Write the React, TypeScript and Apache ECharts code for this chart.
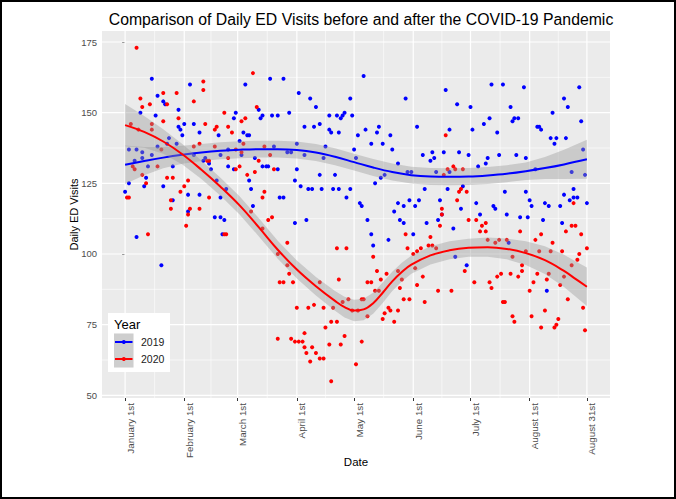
import { useEffect, useRef } from "react";
import * as echarts from "echarts";

// ---- axis breaks / labels ----
const xBreaks = [0, 31, 59, 90, 120, 151, 181, 212, 242];
const xLabels = ["January 1st", "February 1st", "March 1st", "April 1st", "May 1st", "June 1st", "July 1st", "August 1st", "August 31st"];
const yBreaks = [50, 75, 100, 125, 150, 175];
const xMin = -12.1;
const xMax = 254.1;
const yMin = 49.05;
const yMax = 178.9;

// ---- daily ED visits: [day since Jan 1, visits] ----
const visits2019: [number, number][] = [
  [0,122],[2,125],[2,137],[5,133],[6,137],[6,106],[8,150],[9,136],[9,134],[11,127],[10,124],[12,131],[14,162],[14,135],[16,149],[17,156],[17,138],[19,96],[20,154],[20,124],[21,153],[22,139],[23,141],[25,131],[25,119],[27,139],[28,151],[28,145],[29,144],[30,142],[31,146],[33,121],[33,115],[34,160],[36,146],[36,135],[39,143],[39,121],[41,133],[42,134],[44,132],[45,130],[47,113],[48,126],[49,142],[50,135],[50,120],[50,113],[51,107],[52,112],[53,123],[54,131],
  [54,137],[57,130],[57,148],[58,150],[60,140],[61,135],[62,143],[63,160],[64,142],[65,142],[65,126],[66,123],[67,117],[68,134],[70,151],[71,148],[72,149],[72,131],[74,131],[75,131],[76,162],[77,149],[78,138],[80,149],[80,130],[81,120],[83,162],[83,120],[85,136],[86,150],[87,136],[89,126],[89,111],[90,139],[90,130],[91,157],[92,124],[94,145],[94,135],[95,112],[96,123],[97,155],[98,123],[99,145],[100,152],[102,146],[102,128],[103,123],[104,134],[105,138],[107,149],[107,144],[108,143],[109,123],[110,128],[111,149],[112,143],[112,123],[113,148],[114,149],[115,150],[116,120],[118,155],[118,123],[119,149],[120,137],[121,134],[122,142],
  [123,118],[124,117],[125,163],[126,144],[127,112],[129,139],[129,107],[130,103],[131,125],[132,143],[133,145],[134,127],[135,139],[136,128],[138,105],[139,142],[140,137],[141,115],[143,132],[143,118],[144,112],[146,117],[146,111],[147,155],[148,129],[149,119],[150,129],[151,107],[152,117],[153,145],[154,119],[156,135],[157,123],[158,111],[160,133],[161,136],[162,134],[163,129],[164,112],[165,119],[166,114],[167,136],[168,158],[169,123],[170,144],[170,129],[172,109],[173,99],[174,153],[175,136],[176,116],[177,124],[179,96],[180,135],[181,152],[182,144],[184,118],[185,131],[186,114],[188,146],
  [189,132],[190,134],[191,148],[192,160],[193,117],[194,116],[195,143],[196,135],[198,160],[199,122],[200,114],[201,104],[202,152],[203,147],[204,148],[205,135],[206,148],[207,113],[209,159],[210,134],[210,122],[211,113],[212,119],[213,117],[215,130],[216,145],[217,145],[218,144],[219,112],[220,118],[221,87],[222,117],[223,141],[224,150],[225,139],[226,141],[228,117],[229,111],[230,155],[230,121],[231,141],[232,152],[233,119],[234,129],[235,123],[235,120],[237,120],[238,159],[239,147],[240,137],[241,128],[242,118]
];

const visits2020: [number, number][] = [
  [1,120],[2,120],[3,146],[4,131],[5,130],[6,173],[7,144],[8,155],[9,152],[9,128],[11,125],[12,107],[13,153],[14,146],[14,144],[17,131],[19,137],[20,157],[20,147],[22,153],[22,127],[24,119],[24,116],[25,127],[27,157],[28,148],[29,122],[31,124],[32,110],[33,126],[33,114],[34,116],[36,154],[36,138],[39,139],[39,116],[41,161],[41,158],[42,146],[43,133],[44,133],[44,120],[47,144],[47,138],[48,145],[52,150],[52,107],[53,107],[54,145],
  [54,134],[56,143],[58,137],[58,130],[60,131],[61,147],[61,136],[62,139],[63,148],[64,128],[66,115],[67,164],[68,129],[69,152],[70,133],[72,120],[72,109],[73,138],[73,122],[75,112],[76,135],[77,113],[78,130],[80,100],[80,70],[81,90],[83,90],[85,104],[85,96],[86,93],[87,70],[88,90],[89,69],[90,81],[91,69],[93,69],[94,72],[94,67],[95,65],[96,81],[97,62],[98,67],[99,82],[100,65],[102,90],[102,63],[104,81],[104,63],[105,74],[107,68],[108,76],[108,55],[109,81],[111,102],[111,76],[112,91],[113,68],[114,83],[115,71],[116,102],[117,84],[119,80],[121,61],
  [122,80],[124,84],[124,69],[125,84],[127,90],[127,78],[129,90],[130,99],[131,87],[132,94],[133,87],[134,91],[135,77],[136,79],[137,93],[138,81],[139,80],[141,76],[143,94],[143,80],[144,88],[145,91],[146,84],[147,107],[148,102],[149,84],[151,100],[152,95],[153,101],[153,89],[155,102],[156,92],[157,83],[159,103],[160,106],[161,103],[163,102],[164,87],[165,110],[166,116],[166,114],[167,128],[168,142],[169,130],[171,87],[172,131],[173,130],[174,119],[175,122],[176,123],[177,130],[178,94],[179,122],[180,112],[183,90],[184,112],[186,108],[187,110],[189,108],
  [189,111],[190,105],[191,90],[192,88],[194,104],[195,92],[196,105],[197,93],[198,83],[199,83],[200,105],[202,93],[203,99],[203,78],[204,76],[206,92],[207,108],[208,96],[208,94],[210,101],[212,87],[213,78],[214,90],[215,105],[216,93],[217,101],[218,107],[218,74],[220,80],[221,91],[222,93],[223,101],[224,104],[225,74],[226,75],[227,77],[228,89],[229,101],[230,92],[231,108],[232,84],[234,110],[234,96],[235,118],[236,110],[237,98],[238,100],[239,107],[240,81],[241,73],[242,102]
];

// ---- loess fits ----
const fitDays2019 = [0,10,20,30,40,50,60,70,80,90,100,110,120,130,140,150,160,170,180,190,200,210,220,230,242];
const fit2019 = [131.6,132.9,134.1,135.1,135.9,136.5,136.9,137.1,137.1,136.8,135.9,134.4,132.5,130.6,129,127.9,127.4,127.3,127.4,127.8,128.4,129.3,130.4,131.7,133.5];
const band2019 = [6.8,5.0,3.8,3.2,3.0,3.0,3.0,3.0,3.0,3.0,3.0,3.0,3.0,3.0,3.0,3.0,3.0,3.0,3.0,3.0,3.0,3.1,3.9,5.2,6.9];

const fitDays2020 = [0,10,20,30,40,50,60,70,80,90,100,110,115,120,125,130,135,140,145,150,160,170,180,190,200,210,220,230,236,242];
const fit2020 = [145.6,143.2,139.8,135.3,129.8,123.8,117.2,109.5,101.5,94.5,88.6,83.4,81.2,80,80.4,82.6,86.3,90.3,93.6,96.2,99.5,101.3,102.2,102.4,101.8,100.3,97.8,94,91.2,88.4];
const band2020 = [7.5,5.6,4.3,3.6,3.3,3.2,3.2,3.2,3.2,3.2,3.3,3.5,3.7,3.8,3.8,3.7,3.6,3.4,3.3,3.2,3.2,3.2,3.2,3.4,3.7,4.2,4.9,5.7,6.2,6.8];

const seriesNames = ["2019", "2020"];
const seriesColors = ["#0000FF", "#FF0000"];

const FONT = "'Liberation Sans', Arial, sans-serif";
const BAND_FILL = "rgba(153,153,153,0.4)";

export default function App() {
  const ref = useRef<HTMLDivElement>(null);

  useEffect(() => {
    const chart = echarts.init(ref.current!, null, { renderer: "svg" });

    const mids = (arr: number[]) => arr.slice(1).map((v, i) => (v + arr[i]) / 2);
    const gridData: [number, number][] = [
      ...xBreaks.map((v) => [v, 0] as [number, number]),
      ...mids(xBreaks).map((v) => [v, 1] as [number, number]),
      ...yBreaks.map((v) => [v, 2] as [number, number]),
      ...mids(yBreaks).map((v) => [v, 3] as [number, number]),
    ];

    const bandSeries = (days: number[], fit: number[], hw: number[], z: number) => ({
      type: "custom",
      silent: true,
      z,
      data: [[0, 100]],
      renderItem: (_p: any, api: any) => {
        const upper = days.map((d, i) => api.coord([d, fit[i] + hw[i]]));
        const lower = days.map((d, i) => api.coord([d, fit[i] - hw[i]])).reverse();
        return {
          type: "polygon",
          shape: { points: upper.concat(lower) },
          style: { fill: BAND_FILL },
        };
      },
    });

    const fitLine = (name: string, days: number[], fit: number[], color: string, z: number) => ({
      type: "line",
      name,
      silent: true,
      z,
      data: days.map((d, i) => [d, fit[i]]),
      showSymbol: false,
      symbol: "none",
      smooth: 0.4,
      lineStyle: { color, width: 2 },
    });

    const legendY = [342, 359];

    chart.setOption({
      animation: false,
      backgroundColor: "#FFFFFF",
      title: {
        text: "Comparison of Daily ED Visits before and after the COVID-19 Pandemic",
        left: 356,
        top: 6,
        textAlign: "center",
        textStyle: { fontFamily: FONT, fontSize: 15.8, fontWeight: "normal", color: "#000000" },
      },
      grid: {
        left: 102,
        right: 66,
        top: 31,
        bottom: 101,
        show: true,
        backgroundColor: "#EBEBEB",
        borderWidth: 0,
      },
      xAxis: {
        type: "value",
        min: xMin,
        max: xMax,
        axisLine: { show: false },
        splitLine: { show: false },
        axisTick: { show: true, customValues: xBreaks, length: 3, lineStyle: { color: "#333333", width: 1 } },
        axisLabel: {
          customValues: xBreaks,
          rotate: 90,
          formatter: (v: number) => xLabels[xBreaks.indexOf(v)] ?? "",
          color: "#4D4D4D",
          fontSize: 9.8,
          fontFamily: FONT,
          margin: 5,
          verticalAlign: "top",
        },
        name: "Date",
        nameLocation: "middle",
        nameGap: 58,
        nameMoveOverlap: false,
        nameTextStyle: { fontFamily: FONT, fontSize: 11.5, color: "#000000" },
      },
      yAxis: {
        type: "value",
        min: yMin,
        max: yMax,
        axisLine: { show: false },
        splitLine: { show: false },
        axisTick: { show: true, customValues: yBreaks, length: 3, lineStyle: { color: "#333333", width: 1 } },
        axisLabel: {
          customValues: yBreaks,
          formatter: (v: number) => String(v),
          color: "#4D4D4D",
          fontSize: 9.5,
          fontFamily: FONT,
          margin: 5,
        },
        name: "Daily ED Visits",
        nameLocation: "middle",
        nameGap: 23,
        nameMoveOverlap: false,
        nameTextStyle: { fontFamily: FONT, fontSize: 11, color: "#000000" },
      },
      series: [
        {
          type: "custom",
          silent: true,
          z: 1,
          data: gridData,
          renderItem: (_p: any, api: any) => {
            const v = api.value(0);
            const k = api.value(1);
            const p1 = k < 2 ? api.coord([v, yMin]) : api.coord([xMin, v]);
            const p2 = k < 2 ? api.coord([v, yMax]) : api.coord([xMax, v]);
            return {
              type: "line",
              shape: { x1: p1[0], y1: p1[1], x2: p2[0], y2: p2[1] },
              style: { stroke: "#FFFFFF", lineWidth: k % 2 === 0 ? 1.2 : 0.6 },
            };
          },
        },
        {
          type: "scatter",
          name: seriesNames[0],
          silent: true,
          z: 2,
          data: visits2019,
          symbolSize: 4,
          itemStyle: { color: seriesColors[0], opacity: 1 },
        },
        {
          type: "scatter",
          name: seriesNames[1],
          silent: true,
          z: 2,
          data: visits2020,
          symbolSize: 4,
          itemStyle: { color: seriesColors[1], opacity: 1 },
        },
        bandSeries(fitDays2019, fit2019, band2019, 3),
        fitLine("2019 fit", fitDays2019, fit2019, seriesColors[0], 4),
        bandSeries(fitDays2020, fit2020, band2020, 5),
        fitLine("2020 fit", fitDays2020, fit2020, seriesColors[1], 6),
      ],
      graphic: [
        { type: "rect", z: 100, silent: true, shape: { x: 1, y: 1, width: 674, height: 497 }, style: { fill: "none", stroke: "#000000", lineWidth: 2 } },
        { type: "rect", z: 100, silent: true, shape: { x: 108, y: 313, width: 62, height: 59 }, style: { fill: "#FFFFFF" } },
        { type: "text", z: 101, silent: true, x: 114, y: 324, style: { text: "Year", fontFamily: FONT, fontSize: 13, fill: "#000000", verticalAlign: "middle" } },
        { type: "rect", z: 101, silent: true, shape: { x: 114, y: 333.5, width: 19.5, height: 34 }, style: { fill: "#F2F2F2" } },
        { type: "rect", z: 102, silent: true, shape: { x: 114, y: 333.5, width: 19.5, height: 34 }, style: { fill: BAND_FILL } },
        ...seriesNames.flatMap((n, i) => [
          { type: "line", z: 103, silent: true, shape: { x1: 115, y1: legendY[i], x2: 132.5, y2: legendY[i] }, style: { stroke: seriesColors[i], lineWidth: 2 } },
          { type: "circle", z: 104, silent: true, shape: { cx: 123.8, cy: legendY[i], r: 2 }, style: { fill: seriesColors[i] } },
          { type: "text", z: 103, silent: true, x: 141, y: legendY[i], style: { text: n, fontFamily: FONT, fontSize: 10.5, fill: "#1A1A1A", verticalAlign: "middle" } },
        ]),
      ],
    });

    return () => chart.dispose();
  }, []);

  return (
    <div style={{ position: "fixed", left: 0, top: 0, width: 676, height: 499, background: "#FFFFFF" }}>
      <div ref={ref} style={{ width: 676, height: 499 }} />
    </div>
  );
}
